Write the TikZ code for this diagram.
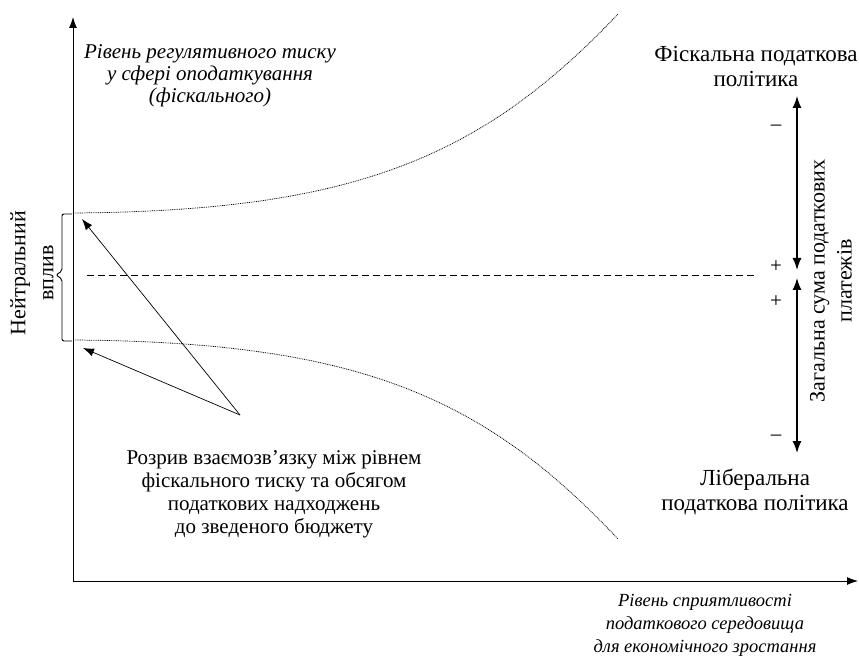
\documentclass[tikz,border=0pt]{standalone}
\usepackage{fontspec}
\setmainfont{Liberation Serif}
\usetikzlibrary{arrows.meta}
\begin{document}
\begin{tikzpicture}[x=1pt,y=-1pt,
  txt/.style={font=\fontsize{21}{23}\selectfont, align=center, inner sep=0pt},
  bigtxt/.style={font=\fontsize{23}{25}\selectfont, align=center, inner sep=0pt},
  itxt/.style={font=\fontsize{21}{22}\selectfont\itshape, align=center, inner sep=0pt},
  sitxt/.style={font=\fontsize{18.5}{23}\selectfont\itshape, align=center, inner sep=0pt},
  axis/.style={line width=0.9pt, -{Latex[length=11pt,width=8pt]}},
  curve/.style={dash pattern=on 0.9pt off 0.9pt, line width=0.75pt},
  thinarrow/.style={line width=0.7pt, -{Latex[length=11pt,width=8pt]}},
  bigarrow/.style={line width=1.4pt}]
\useasboundingbox (0,0) rectangle (859,660);
% axes
\coordinate (O) at (73,581);
\coordinate (Ytop) at (73,17);
\coordinate (Xend) at (858,581);
\draw[axis] (O) -- (Ytop);
\draw[axis] (O) -- (Xend);
% curves
\coordinate (U0) at (73,213);
\coordinate (U1) at (618,14);
\coordinate (L0) at (73,340);
\coordinate (L1) at (618,539);
\draw[curve] (U0) .. controls (350,211) and (480,160) .. (U1);
\draw[curve] (L0) .. controls (350,342) and (480,392) .. (L1);
% dashed
\coordinate (D0) at (87,275);
\coordinate (D1) at (756,275);
\draw[dash pattern=on 7pt off 4pt, line width=0.9pt] (D0) -- (D1);
% brace
\coordinate (B0) at (72,341);
\coordinate (B1) at (72,214);
\draw[line width=0.9pt, rounded corners=2pt] (B1) -- (62,214) -- (62,271) -- (56,275) -- (62,279) -- (62,341) -- (B0);
\node[font=\fontsize{22}{28}\selectfont, align=center, inner sep=0pt, rotate=90] (neut) at (32,273) {Нейтральний\\вплив};
% converging arrows
\coordinate (C) at (240,415);
\coordinate (A1) at (82,219);
\coordinate (A2) at (83,348);
\draw[thinarrow] (C) -- (A1);
\draw[thinarrow] (C) -- (A2);
% labels
\node[itxt] (ylab) at (210,76) {Рівень регулятивного тиску\\у сфері оподаткування\\(фіскального)};
\node[sitxt] (xlab) at (705,625) {Рівень сприятливості\\податкового середовища\\для економічного зростання};
\node[txt] (gap) at (274,494) {Розрив взаємозв’язку між рівнем\\фіскального тиску та обсягом\\податкових надходжень\\до зведеного бюджету};
\node[bigtxt] (fisc) at (756,67) {Фіскальна податкова\\політика};
\node[bigtxt] (lib) at (755,492) {Ліберальна\\податкова політика};
% right arrows
\coordinate (R0) at (797,96);
\coordinate (R1) at (797,270);
\coordinate (R2) at (797,278);
\coordinate (R3) at (797,453);
\draw[bigarrow, {Latex[length=12pt,width=9pt]}-{Latex[length=12pt,width=9pt]}] (R0) -- (R1);
\draw[bigarrow, {Latex[length=12pt,width=9pt]}-{Latex[length=12pt,width=9pt]}] (R2) -- (R3);
\node[txt] (m1) at (776,128) {–};
\node[txt] (p1) at (776,267) {+};
\node[txt] (p2) at (776,302) {+};
\node[txt] (m2) at (776,438) {–};
\node[font=\fontsize{22}{27}\selectfont, align=center, inner sep=0pt, rotate=90] (sum) at (831,281) {Загальна сума податкових\\платежів};
\end{tikzpicture}
\end{document}
